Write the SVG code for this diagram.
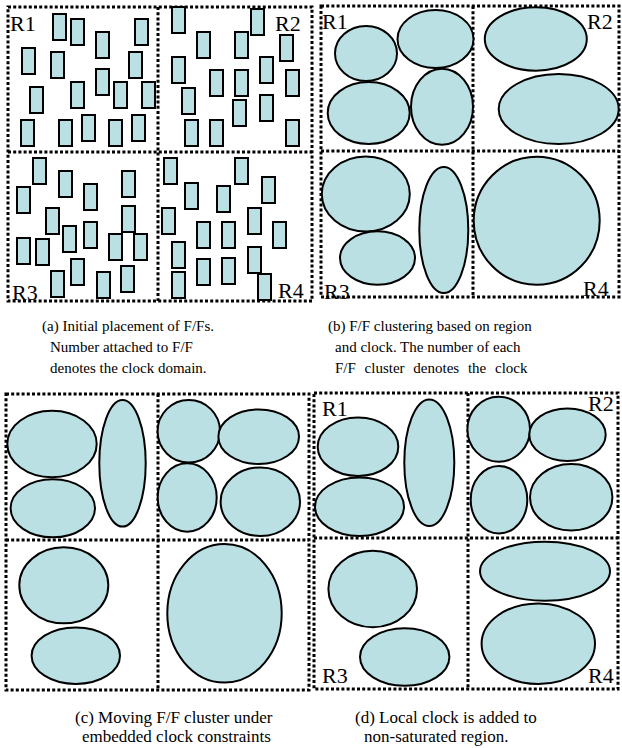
<svg xmlns="http://www.w3.org/2000/svg" width="622" height="748" viewBox="0 0 622 748">
<style>
.bd{fill:none;stroke:#000;stroke-width:3;stroke-dasharray:3 2.2}
.ff{fill:#bae0e3;stroke:#000;stroke-width:2}
.cl{fill:#bae0e3;stroke:#000;stroke-width:2}
.lb{font-family:"Liberation Serif","Times New Roman",serif;font-size:22px;fill:#000}
.cap{font-family:"Liberation Serif","Times New Roman",serif;font-size:15px;fill:#000}
.cap2{font-family:"Liberation Serif","Times New Roman",serif;font-size:17px;fill:#000}
</style>
<defs>
<rect id="f" width="13" height="26" class="ff"/>
</defs>

<!-- Panel (a) -->
<g id="panel-a">
<g id="a-borders">
<rect class="bd" x="8" y="7" width="304" height="294"/>
<line class="bd" x1="158" y1="7" x2="158" y2="301"/>
<line class="bd" x1="8" y1="152" x2="312" y2="152"/>
</g>
<g id="a-R1">
<use href="#f" x="53" y="14"/><use href="#f" x="71" y="19"/><use href="#f" x="135" y="19"/>
<use href="#f" x="96" y="32"/><use href="#f" x="22" y="48"/><use href="#f" x="51" y="52"/>
<use href="#f" x="129" y="52"/><use href="#f" x="96" y="69"/><use href="#f" x="30" y="87"/>
<use href="#f" x="71" y="82"/><use href="#f" x="114" y="82"/><use href="#f" x="142" y="82"/>
<use href="#f" x="21" y="120"/><use href="#f" x="59" y="120"/><use href="#f" x="82" y="115"/>
<use href="#f" x="109" y="120"/><use href="#f" x="132" y="115"/>
<text class="lb" x="10" y="31">R1</text>
</g>
<g id="a-R2">
<use href="#f" x="172" y="7"/><use href="#f" x="251" y="9"/><use href="#f" x="197" y="32"/>
<use href="#f" x="235" y="32"/><use href="#f" x="280" y="35"/><use href="#f" x="172" y="57"/>
<use href="#f" x="260" y="57"/><use href="#f" x="210" y="70"/><use href="#f" x="235" y="70"/>
<use href="#f" x="286" y="70"/><use href="#f" x="182" y="88"/><use href="#f" x="260" y="95"/>
<use href="#f" x="233" y="100"/><use href="#f" x="185" y="120"/><use href="#f" x="210" y="120"/>
<use href="#f" x="286" y="120"/>
<text class="lb" x="275" y="31">R2</text>
</g>
<g id="a-R3">
<use href="#f" x="33" y="158"/><use href="#f" x="59" y="171"/><use href="#f" x="122" y="171"/>
<use href="#f" x="17" y="187"/><use href="#f" x="84" y="184"/><use href="#f" x="122" y="206"/>
<use href="#f" x="46" y="208"/><use href="#f" x="63" y="226"/><use href="#f" x="84" y="222"/>
<use href="#f" x="17" y="238"/><use href="#f" x="36" y="239"/><use href="#f" x="109" y="234"/>
<use href="#f" x="134" y="234"/><use href="#f" x="71" y="259"/><use href="#f" x="51" y="271"/>
<use href="#f" x="97" y="272"/><use href="#f" x="121" y="266"/>
<text class="lb" x="12" y="300">R3</text>
</g>
<g id="a-R4">
<use href="#f" x="164" y="158"/><use href="#f" x="235" y="158"/><use href="#f" x="185" y="183"/>
<use href="#f" x="217" y="186"/><use href="#f" x="262" y="177"/><use href="#f" x="162" y="208"/>
<use href="#f" x="248" y="208"/><use href="#f" x="197" y="222"/><use href="#f" x="222" y="222"/>
<use href="#f" x="273" y="222"/><use href="#f" x="172" y="242"/><use href="#f" x="248" y="247"/>
<use href="#f" x="197" y="259"/><use href="#f" x="222" y="258"/><use href="#f" x="172" y="272"/>
<use href="#f" x="258" y="274"/>
<text class="lb" x="278" y="298">R4</text>
</g>
</g>

<!-- Panel (b) -->
<g id="panel-b">
<g id="b-borders">
<rect class="bd" x="321" y="6" width="298" height="291"/>
<line class="bd" x1="473" y1="6" x2="473" y2="297"/>
<line class="bd" x1="321" y1="151" x2="619" y2="151"/>
</g>
<g id="b-R1">
<ellipse class="cl" cx="366" cy="53.5" rx="31" ry="27.5"/>
<ellipse class="cl" cx="435.5" cy="39" rx="38" ry="29"/>
<ellipse class="cl" cx="368.7" cy="113" rx="41" ry="31"/>
<ellipse class="cl" cx="442" cy="106.7" rx="31" ry="38"/>
<text class="lb" x="322" y="29">R1</text>
</g>
<g id="b-R2">
<ellipse class="cl" cx="535.8" cy="39" rx="51" ry="31.7"/>
<ellipse class="cl" cx="558.7" cy="109" rx="60" ry="35"/>
<text class="lb" x="587" y="29">R2</text>
</g>
<g id="b-R3">
<ellipse class="cl" cx="365.8" cy="194" rx="44" ry="37.5"/>
<ellipse class="cl" cx="377.5" cy="258" rx="37.5" ry="26.7"/>
<ellipse class="cl" cx="443.8" cy="230" rx="24.5" ry="63"/>
<text class="lb" x="324" y="299">R3</text>
</g>
<g id="b-R4">
<ellipse class="cl" cx="536.7" cy="220.8" rx="63" ry="64"/>
<text class="lb" x="583" y="296">R4</text>
</g>
</g>

<!-- Captions (a), (b) -->
<g id="caption-a">
<text class="cap" x="42" y="331">(a) Initial placement of F/Fs.</text>
<text class="cap" x="50" y="352">Number attached to F/F</text>
<text class="cap" x="50" y="373">denotes the clock domain.</text>
</g>
<g id="caption-b">
<text class="cap" x="328" y="331">(b) F/F clustering based on region</text>
<text class="cap" x="335" y="352">and clock. The number of each</text>
<text class="cap" x="335" y="373" word-spacing="5">F/F cluster denotes the clock</text>
</g>

<!-- Panel (c) -->
<g id="panel-c">
<g id="c-borders">
<rect class="bd" x="6" y="394" width="303" height="296"/>
<line class="bd" x1="158" y1="394" x2="158" y2="690"/>
<line class="bd" x1="6" y1="540" x2="309" y2="540"/>
</g>
<ellipse class="cl" cx="52" cy="444" rx="44.7" ry="33.3"/>
<ellipse class="cl" cx="52.8" cy="508.3" rx="42.2" ry="29"/>
<ellipse class="cl" cx="122.5" cy="463.3" rx="23.2" ry="63.3"/>
<ellipse class="cl" cx="188.8" cy="431.3" rx="31.2" ry="31.3"/>
<ellipse class="cl" cx="258.7" cy="436.7" rx="40.3" ry="27.3"/>
<ellipse class="cl" cx="187.2" cy="497.5" rx="29.5" ry="34.2"/>
<ellipse class="cl" cx="260.3" cy="501.7" rx="39.7" ry="34.3"/>
<ellipse class="cl" cx="63.8" cy="585.3" rx="44.5" ry="38"/>
<ellipse class="cl" cx="75.8" cy="655.7" rx="44.2" ry="28.3"/>
<ellipse class="cl" cx="224.5" cy="613.3" rx="57.2" ry="69.3"/>
</g>

<!-- Panel (d) -->
<g id="panel-d">
<g id="d-borders">
<rect class="bd" x="314" y="393" width="304" height="296"/>
<line class="bd" x1="468" y1="393" x2="468" y2="689"/>
<line class="bd" x1="314" y1="538" x2="618" y2="538"/>
</g>
<g id="d-R1">
<ellipse class="cl" cx="358" cy="446.7" rx="40.3" ry="29.3"/>
<ellipse class="cl" cx="359.5" cy="506.7" rx="44.5" ry="29.3"/>
<ellipse class="cl" cx="429.3" cy="462.7" rx="25" ry="63.3"/>
<text class="lb" x="322" y="416">R1</text>
</g>
<g id="d-R2">
<ellipse class="cl" cx="498.7" cy="429.2" rx="31.3" ry="32.5"/>
<ellipse class="cl" cx="567.5" cy="434.7" rx="38.2" ry="26.3"/>
<ellipse class="cl" cx="499" cy="499.7" rx="28.3" ry="33.7"/>
<ellipse class="cl" cx="571.2" cy="497.3" rx="41.2" ry="33.3"/>
<text class="lb" x="588" y="411">R2</text>
</g>
<g id="d-R3">
<ellipse class="cl" cx="372.7" cy="589" rx="44.3" ry="38.3"/>
<ellipse class="cl" cx="404.7" cy="657" rx="44.7" ry="28.7"/>
<text class="lb" x="322" y="683">R3</text>
</g>
<g id="d-R4">
<ellipse class="cl" cx="545" cy="571.2" rx="65" ry="29.5"/>
<ellipse class="cl" cx="538.3" cy="643.7" rx="56.7" ry="40.3"/>
<text class="lb" x="588" y="683">R4</text>
</g>
</g>

<!-- Captions (c), (d) -->
<g id="caption-c">
<text class="cap2" x="75" y="723">(c) Moving F/F cluster under</text>
<text class="cap2" x="82" y="742">embedded clock constraints</text>
</g>
<g id="caption-d">
<text class="cap2" x="355" y="723">(d) Local clock is added to</text>
<text class="cap2" x="364" y="742">non-saturated region.</text>
</g>
</svg>
